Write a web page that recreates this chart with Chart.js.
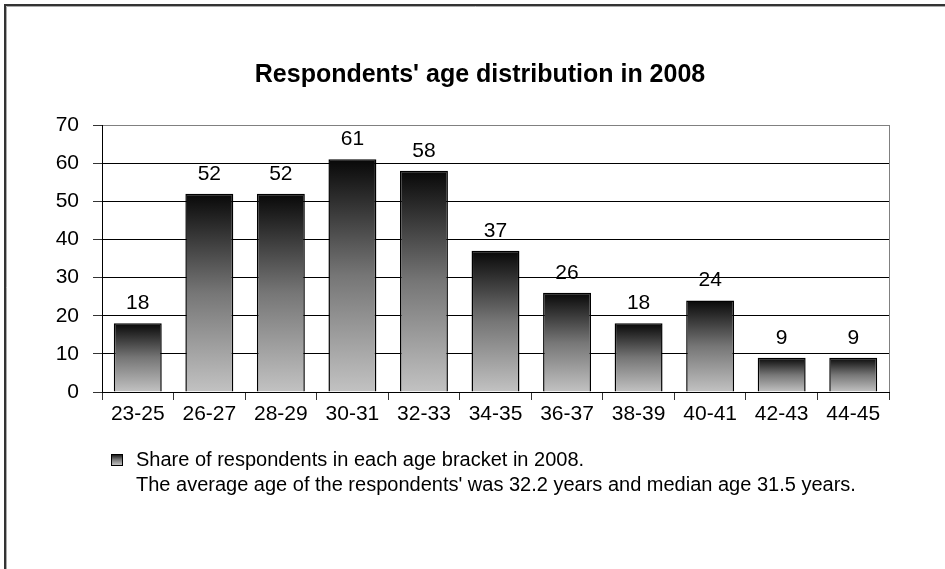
<!DOCTYPE html>
<html>
<head>
<meta charset="utf-8">
<title>Respondents' age distribution in 2008</title>
<script src="https://cdn.jsdelivr.net/npm/chart.js@4/dist/chart.umd.min.js"></script>
<style>
  html, body { margin: 0; padding: 0; background: #fff; }
  #wrap { width: 945px; height: 569px; position: relative; }
</style>
</head>
<body>
<div id="wrap"><canvas id="c" width="945" height="569"></canvas></div>
<script>
// Age brackets and number of respondents in each
const ageBrackets = ['23-25', '26-27', '28-29', '30-31', '32-33', '34-35', '36-37', '38-39', '40-41', '42-43', '44-45'];
const respondents = [18, 52, 52, 61, 58, 37, 26, 18, 24, 9, 9];
const yTicks = [0, 10, 20, 30, 40, 50, 60, 70];

const chartTitle = "Respondents' age distribution in 2008";
const legendLine1 = 'Share of respondents in each age bracket in 2008.';
const legendLine2 = "The average age of the respondents' was 32.2 years and median age 31.5 years.";

const FONT = '"Liberation Sans", Arial, sans-serif';

function barGradient(ctx, top, bottom) {
  if (!isFinite(top) || !isFinite(bottom) || top === bottom) return '#7a7a7a';
  const g = ctx.createLinearGradient(0, top, 0, bottom);
  g.addColorStop(0, '#080808');
  g.addColorStop(0.5, '#767676');
  g.addColorStop(1, '#c2c2c2');
  return g;
}

const decorations = {
  id: 'decorations',
  beforeDraw(chart) {
    const ctx = chart.ctx;
    ctx.save();
    ctx.fillStyle = '#fff';
    ctx.fillRect(0, 0, chart.width, chart.height);
    // outer frame (top and left edges)
    ctx.strokeStyle = '#333';
    ctx.lineWidth = 2;
    ctx.beginPath();
    ctx.moveTo(5, chart.height);
    ctx.lineTo(5, 5);
    ctx.lineTo(chart.width, 5);
    ctx.stroke();
    ctx.strokeStyle = '#aaa';
    ctx.lineWidth = 1;
    ctx.beginPath();
    ctx.moveTo(6.5, chart.height);
    ctx.lineTo(6.5, 6.5);
    ctx.lineTo(chart.width, 6.5);
    ctx.stroke();
    ctx.restore();
  },
  afterDraw(chart) {
    const ctx = chart.ctx;
    const area = chart.chartArea;
    ctx.save();
    // right edge of the plot area
    ctx.strokeStyle = '#808080';
    ctx.lineWidth = 1;
    ctx.beginPath();
    ctx.moveTo(Math.round(area.right) + 0.5, area.top);
    ctx.lineTo(Math.round(area.right) + 0.5, area.bottom);
    ctx.stroke();

    // title
    ctx.fillStyle = '#000';
    ctx.font = 'bold 25px ' + FONT;
    ctx.textAlign = 'center';
    ctx.textBaseline = 'middle';
    ctx.fillText(chartTitle, 480, 75);

    // value labels above the bars
    ctx.font = '21px ' + FONT;
    ctx.textBaseline = 'alphabetic';
    const meta = chart.getDatasetMeta(0);
    meta.data.forEach((bar, i) => {
      ctx.fillText(String(respondents[i]), bar.x, bar.y - 14);
    });

    // legend
    const mx = 111, my = 454, ms = 11;
    ctx.fillStyle = barGradient(ctx, my, my + ms);
    ctx.fillRect(mx, my, ms, ms);
    ctx.strokeStyle = '#000';
    ctx.lineWidth = 1;
    ctx.strokeRect(mx + 0.5, my + 0.5, ms, ms);
    ctx.fillStyle = '#000';
    ctx.font = '20px ' + FONT;
    ctx.textAlign = 'left';
    ctx.textBaseline = 'middle';
    ctx.fillText(legendLine1, 136, 460);
    ctx.fillText(legendLine2, 136, 485);
    ctx.restore();
  }
};

new Chart(document.getElementById('c'), {
  type: 'bar',
  data: {
    labels: ageBrackets,
    datasets: [{
      label: legendLine1,
      data: respondents,
      backgroundColor(context) {
        const chart = context.chart;
        const ys = chart.scales && chart.scales.y;
        if (!ys || context.type !== 'data') return '#7a7a7a';
        const top = ys.getPixelForValue(context.raw);
        const bottom = ys.getPixelForValue(0);
        return barGradient(chart.ctx, top, bottom);
      },
      borderColor: '#000',
      borderWidth: 1.5,
      categoryPercentage: 1,
      barPercentage: 0.67
    }]
  },
  options: {
    responsive: false,
    animation: false,
    layout: { padding: { left: 0, top: 125, right: 56, bottom: 137 } },
    plugins: {
      legend: { display: false },
      title: { display: false },
      tooltip: { enabled: false }
    },
    scales: {
      x: {
        grid: {
          offset: true,
          drawOnChartArea: false,
          color: '#000',
          tickLength: 8,
          tickColor: '#333'
        },
        border: { color: '#000', width: 1 },
        ticks: { color: '#000', font: { family: FONT, size: 21 }, padding: 2, maxRotation: 0 },
        afterFit(scale) { scale.height = 40; }
      },
      y: {
        min: 0,
        max: 70,
        afterBuildTicks(scale) { scale.ticks = yTicks.map(v => ({ value: v })); },
        grid: {
          color(ctx) { return ctx.tick && ctx.tick.value === 70 ? '#808080' : '#000'; },
          tickLength: 9,
          tickColor: '#333'
        },
        border: { color: '#000', width: 1 },
        ticks: { color: '#000', font: { family: FONT, size: 21 }, padding: 14 },
        afterFit(scale) { scale.width = 102; }
      }
    }
  },
  plugins: [decorations]
});
</script>
</body>
</html>
